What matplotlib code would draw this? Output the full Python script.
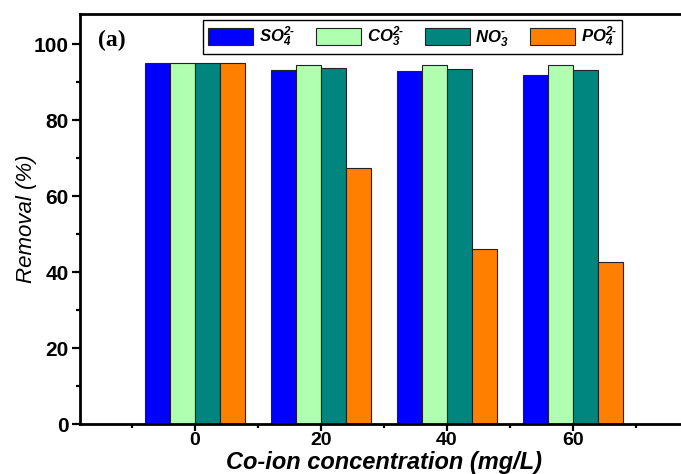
import numpy as np
import matplotlib
matplotlib.use("Agg")
import matplotlib.pyplot as plt
from matplotlib.font_manager import FontProperties
from matplotlib.ticker import MultipleLocator, FixedLocator

plt.rcParams['font.family'] = ['Liberation Sans', 'DejaVu Sans']
plt.rcParams['mathtext.fontset'] = 'custom'
plt.rcParams['mathtext.rm'] = 'Liberation Sans:bold:italic'
plt.rcParams['mathtext.it'] = 'Liberation Sans:bold:italic'
plt.rcParams['mathtext.bf'] = 'Liberation Sans:bold:italic'

# ---- data ----
concentrations = [0, 20, 40, 60]
so4 = [95.2, 93.3, 92.9, 91.9]
co3 = [95.2, 94.6, 94.6, 94.6]
no3 = [95.2, 93.9, 93.6, 93.2]
po4 = [95.2, 67.5, 46.1, 42.6]
series_labels = [r'SO$_4^{2\text{-}}$', r'CO$_3^{2\text{-}}$', r'NO$_3^{\text{-}}$', r'PO$_4^{2\text{-}}$']
series_colors = ['#0000FF', '#B0FFB0', '#00857F', '#FF8000']
x_ticks = [0, 20, 40, 60]
y_ticks = [0, 20, 40, 60, 80, 100]

W, H = 681, 474
fig = plt.figure(figsize=(W / 100, H / 100), dpi=100)
ax = fig.add_axes([80 / W, 50 / H, 608 / W, 410 / H])

x = np.array(concentrations, dtype=float)
bw = 4.0
for i, (vals, col, lab) in enumerate(zip([so4, co3, no3, po4], series_colors, series_labels)):
    ax.bar(x + (i - 1.5) * bw, vals, width=bw, color=col, edgecolor='#222222',
           linewidth=0.8, label=lab, zorder=2)

ax.set_xlim(-18.25, 78.25)
ax.set_ylim(0, 108)
ax.xaxis.set_major_locator(FixedLocator(x_ticks))
ax.xaxis.set_minor_locator(FixedLocator([-10, 10, 30, 50, 70]))
ax.yaxis.set_major_locator(FixedLocator(y_ticks))
ax.yaxis.set_minor_locator(MultipleLocator(10))

for sp in ax.spines.values():
    sp.set_linewidth(2.0)
    sp.set_zorder(3)

ax.tick_params(which='major', direction='out', length=6, width=1.6, labelsize=15, pad=2)
ax.tick_params(axis='x', which='major', length=5, labelsize=14, pad=1)
ax.tick_params(which='minor', direction='out', length=3, width=1.6)
ax.tick_params(top=False, right=False, which='both')
for lab in ax.get_xticklabels() + ax.get_yticklabels():
    lab.set_fontweight('bold')

ax.set_ylabel('Removal (%)', fontsize=16, style='italic', fontweight='normal')
ax.yaxis.set_label_coords((37 - 80) / 608, 0.5)
ax.set_xlabel('Co-ion concentration (mg/L)', fontsize=17, style='italic', fontweight='bold')
ax.xaxis.set_label_coords(0.5, (424 - 469) / 410)
ax.xaxis.label.set_va('baseline')

fig.text(98 / W, 1 - 40 / H, '(a)', family='Liberation Serif', fontweight='bold',
         fontsize=17, va='center', ha='left')

leg = ax.legend(loc='upper left', bbox_to_anchor=(203 / W, 1 - 20 / H),
                bbox_transform=fig.transFigure, ncol=4, frameon=True, fancybox=False,
                edgecolor='black', framealpha=1, borderaxespad=0,
                prop=FontProperties(family='Liberation Sans', weight='bold', style='italic', size=12),
                handlelength=2.7, handleheight=1.2, handletextpad=0.35,
                columnspacing=1.25, borderpad=0.3)
leg.get_frame().set_linewidth(1.0)

fig.savefig('out.png', dpi=100)
